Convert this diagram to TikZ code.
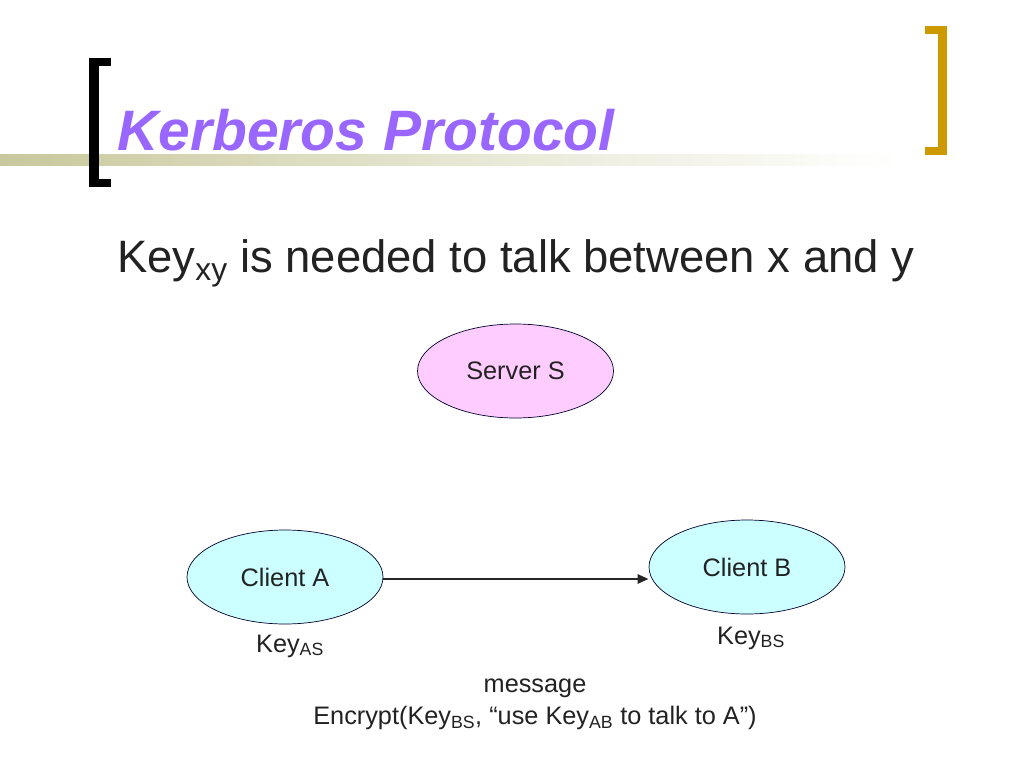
\documentclass[tikz,border=0pt]{standalone}
\usepackage{fontspec}
\setmainfont{Liberation Sans}
\usetikzlibrary{shapes.geometric,arrows.meta}
\definecolor{titlepurple}{RGB}{153,102,255}
\definecolor{barolive}{RGB}{200,200,156}
\definecolor{gold}{RGB}{204,153,0}
\definecolor{pinkfill}{RGB}{255,204,255}
\definecolor{cyanfill}{RGB}{204,255,255}
\definecolor{txt}{RGB}{34,34,34}
\tikzset{
  ovalnode/.style={ellipse, draw=black!80!blue, line width=0.7pt, minimum width=196pt, minimum height=94pt, inner sep=0pt, font=\fontsize{25.3}{29}\selectfont, text=txt},
  lbl/.style={font=\fontsize{25.3}{29}\selectfont, text=txt, inner sep=0pt},
  flow/.style={-{Triangle[length=11pt,width=9pt]}, line width=2.6pt, draw=black!85}
}
\begin{document}
\begin{tikzpicture}[x=1pt,y=-1pt]
\useasboundingbox (0,0) rectangle (1024,768);
\fill[white] (0,0) rectangle (1024,768);
% gradient bar
\shade[left color=barolive, right color=white, middle color=barolive!45] (0,154) rectangle (900,165);
% black bracket
\fill[black] (89,58) rectangle (99,187);
\fill[black] (89,58) rectangle (111,66);
\fill[black] (89,179) rectangle (111,187);
% gold bracket
\fill[gold] (938,26) rectangle (947,155);
\fill[gold] (925,26) rectangle (947,34);
\fill[gold] (925,147) rectangle (947,155);
% title
\node[anchor=base west, inner sep=0pt, text=titlepurple, font=\fontsize{57}{62}\selectfont\bfseries\itshape] (title) at (117,150) {Kerberos Protocol};
% subtitle
\node[anchor=base west, inner sep=0pt, text=txt, font=\fontsize{45.4}{50}\selectfont] (sub) at (117,272) {Key\textsubscript{xy} is needed to talk between x and y};
% nodes
\node[ovalnode, fill=pinkfill] (s) at (515.5,371) {Server S};
\node[ovalnode, fill=cyanfill] (a) at (285,577) {Client A};
\node[ovalnode, fill=cyanfill] (b) at (747,567) {Client B};
\draw[flow] ([yshift=-2pt]a.east) -- ([yshift=-2pt]a.east -| b.west);
\node[lbl] (ka) at (290,646) {Key\textsubscript{AS}};
\node[lbl] (kb) at (751,638) {Key\textsubscript{BS}};
\node[lbl] (msg) at (535,688) {message};
\node[lbl] (enc) at (535,718) {Encrypt(Key\textsubscript{BS}, “use Key\textsubscript{AB} to talk to A”)};
\end{tikzpicture}
\end{document}
